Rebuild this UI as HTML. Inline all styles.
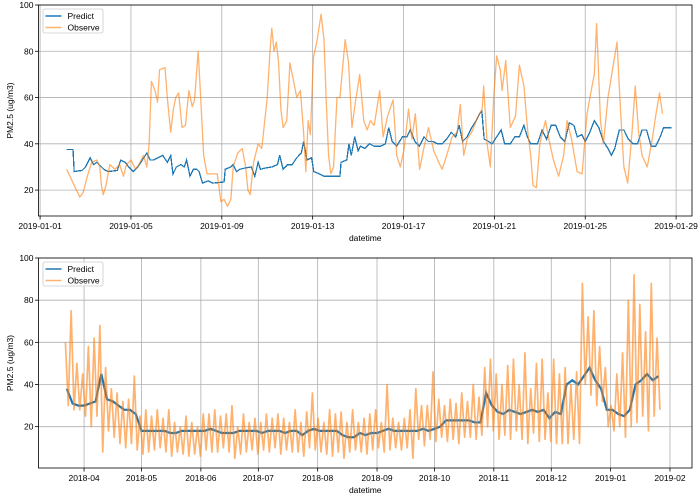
<!DOCTYPE html>
<html><head><meta charset="utf-8"><style>
html,body{margin:0;padding:0;background:#fff;}
svg{display:block;font-family:"Liberation Sans",sans-serif;}
</style></head><body>
<svg id="c" width="700" height="498" viewBox="0 0 700 498"></svg>
<script>
// ---- top chart data (days since 2019-01-01) ----
const topObsDays=[1.17,1.6,1.75,1.9,2.05,2.27,2.5,2.63,2.7,2.78,2.9,3.07,3.3,3.5,3.67,3.8,4.0,4.2,4.35,4.55,4.7,4.8,4.9,5.06,5.17,5.26,5.5,5.6,5.75,5.87,5.97,6.1,6.25,6.4,6.55,6.7,6.8,6.96,7.07,7.2,7.35,7.6,7.8,7.96,8.1,8.25,8.4,8.5,8.7,8.9,9.05,9.15,9.25,9.4,9.6,9.76,10.0,10.12,10.2,10.3,10.4,10.5,10.6,10.7,10.86,11.0,11.1,11.3,11.46,11.6,11.7,11.8,11.9,12.03,12.2,12.37,12.5,12.6,12.7,12.8,12.92,13.07,13.2,13.43,13.58,13.73,13.88,14.07,14.25,14.4,14.54,14.71,14.95,15.1,15.3,15.54,15.7,15.86,16.03,16.22,16.37,16.52,16.71,16.89,17.1,17.33,17.55,17.7,17.9,18.14,18.36,18.5,18.65,18.8,19.0,19.24,19.46,19.53,19.68,19.82,19.97,20.1,20.26,20.34,20.5,20.7,20.93,21.1,21.3,21.47,21.6,21.7,21.85,22.0,22.25,22.4,22.6,22.83,23.05,23.2,23.4,23.64,23.86,24.08,24.3,24.4,24.5,24.67,24.8,25.0,25.2,25.4,25.55,25.7,25.87,26.06,26.2,26.35,26.5,26.73,26.95,27.1,27.27,27.4];
const topObsVals=[29,20,17,19,25,32,33,30,22,18,22,31,29,31,26,31,33,29,31,35,30,40,67,63,58,72,73,60,45,55,60,62,47,48,63,56,59,80,60,35,27,27,27,15,16,13,16,30,36,38,30,20,18,32,40,38,60,80,90,80,84,75,55,47,50,75,70,60,63,45,28,50,44,77,85,96,85,58,35,27,30,60,60,85,75,47,58,70,50,46,50,48,63,43,52,59,35,30,38,55,42,53,29,38,47,37,32,29,35,43,45,57,35,42,45,51,55,65,40,30,60,78,72,63,76,47,52,74,65,45,35,22,21,40,50,42,33,26,35,50,42,28,27,53,65,70,92,50,40,60,72,84,55,30,23,45,65,45,35,30,42,52,62,53];
const topPredDays=[1.17,1.45,1.5,1.85,2.0,2.2,2.35,2.5,2.7,2.8,3.0,3.4,3.55,3.75,3.9,4.1,4.3,4.5,4.7,4.85,5.0,5.2,5.4,5.6,5.75,5.85,6.0,6.2,6.35,6.45,6.6,6.75,6.9,7.0,7.15,7.4,7.6,8.1,8.15,8.4,8.5,8.65,8.8,9.0,9.3,9.45,9.6,9.7,9.9,10.2,10.45,10.55,10.7,10.9,11.1,11.3,11.5,11.6,11.75,11.95,12.05,12.3,12.5,13.2,13.25,13.5,13.6,13.7,13.85,14.0,14.1,14.3,14.5,14.7,15.0,15.2,15.35,15.5,15.7,15.95,16.15,16.3,16.5,16.7,16.9,17.1,17.3,17.5,17.7,17.9,18.1,18.3,18.45,18.6,18.8,19.0,19.2,19.35,19.45,19.55,19.75,19.9,20.1,20.3,20.45,20.7,20.9,21.1,21.3,21.45,21.6,21.9,22.1,22.3,22.5,22.7,22.9,23.1,23.3,23.5,23.65,23.85,24.0,24.2,24.4,24.6,24.8,25.0,25.15,25.3,25.5,25.7,25.9,26.1,26.3,26.5,26.7,26.9,27.1,27.3,27.45,27.6,27.8];
const topPredVals=[37.5,37.5,28,28.5,30,34,31,32,30,29,28,28.5,33,32,30,28,30,33,36,33,33,34,35,32,35,27,30,31,30,33,26,29,29,28,23,24,23,23.5,29,30,31,28,29,29.5,30,26,32,29,29.5,30,31,35,29,31,31,34,36,41,33,34,28,27,26,26,32,33,40,35,43,37,39,38,40,39,39,40,47,41,39,43,43,46,41,39,43,41,41,40,40,42,45,43,48,41,43,47,50,53,54,42,41,40,43,46,40,40,43,43,48,43,40,40,46,42,48,48,43,41,49,48,43,44,41,45,50,47,41,38,35,38,46,46,42,40,40,46,46,39,39,43,47,47,47];
const topTickDays=[0,4,8,12,16,20,24,28];
const topTickLabels=["2019-01-01","2019-01-05","2019-01-09","2019-01-13","2019-01-17","2019-01-21","2019-01-25","2019-01-29"];
const yTicks=[20,40,60,80,100];
// ---- bottom chart data (3-day buckets, days since 2018-04-01) ----
const botDays=[];for(let i=0;i<104;i++)botDays.push(-9+3*i);
const botPred=[38,31,30,30,31,32,45,33,32,30,28,28,26,18,18,18,18,18,17,17,18,18,18,18,18,19,18,17,17,17,18,18,18,18,17,18,18,18,17,18,18,16,18,19,18,18,18,18,16,15,15,17,16,17,17,18,19,18,18,18,18,18,19,18,19,20,23,23,23,23,23,22,22,36,30,27,26,28,27,26,27,28,27,28,24,27,26,40,42,40,44,48,42,38,28,28,26,25,28,40,42,45,42,44];
const botHi=[60,75,50,45,58,62,68,48,38,36,32,33,44,25,28,25,28,24,28,22,20,25,22,20,26,26,28,25,26,30,20,26,22,24,22,26,24,26,24,22,28,22,27,36,24,22,28,26,27,22,28,22,24,26,28,22,40,24,22,24,28,38,30,30,46,33,30,33,31,36,32,40,34,48,52,45,40,49,52,40,55,38,50,52,36,52,45,48,40,46,88,72,75,58,48,30,45,55,80,92,78,65,88,62];
const botLo=[30,28,28,25,20,25,8,18,15,12,10,12,9,7,8,9,10,8,6,8,7,6,7,6,9,8,8,10,8,5,7,8,9,7,9,8,10,7,9,8,8,6,10,9,8,7,6,8,5,8,9,8,7,9,10,8,9,10,9,10,5,14,11,14,13,15,13,14,12,15,15,14,16,20,18,14,16,14,18,14,12,17,13,14,13,12,12,12,14,12,40,35,30,32,20,18,20,15,20,22,25,18,25,28];
const botTickDays=[0,30,61,91,122,153,183,214,244,275,306];
const botTickLabels=["2018-04","2018-05","2018-06","2018-07","2018-08","2018-09","2018-10","2018-11","2018-12","2019-01","2019-02"];

const svg=document.getElementById('c');
const NS='http://www.w3.org/2000/svg';
function mk(tag,attrs,parent){const e=document.createElementNS(NS,tag);for(const k in attrs)e.setAttribute(k,attrs[k]);(parent||svg).appendChild(e);return e;}

function panel(p){
  const g=mk('g',{});
  
  
  const sx=d=>p.L+(d-p.x0)/(p.x1-p.x0)*(p.R-p.L);
  const sy=v=>p.B-(v-p.y0)/(p.y1-p.y0)*(p.B-p.T);
  p.xt.forEach((d,i)=>{
    const x=sx(d);
    const l=mk('line',{x1:x,x2:x,y1:p.T,y2:p.B,stroke:'#b0b0b0','stroke-width':0.8},g);
    
    
    mk('line',{x1:x,x2:x,y1:p.B,y2:p.B+3.5,stroke:'#000','stroke-width':0.8},g);
    const t=mk('text',{x:x,y:p.B+13,'font-size':8.5,'text-anchor':'middle',fill:'#000'},g);
    t.textContent=p.xl[i];
    
    
  });
  yTicks.forEach(v=>{
    const y=sy(v);
    const l=mk('line',{x1:p.L,x2:p.R,y1:y,y2:y,stroke:'#b0b0b0','stroke-width':0.8},g);
    
    
    mk('line',{x1:p.L-3.5,x2:p.L,y1:y,y2:y,stroke:'#000','stroke-width':0.8},g);
    const t=mk('text',{x:p.L-5,y:y+3,'font-size':8.5,'text-anchor':'end',fill:'#000'},g);
    t.textContent=v;
    
    
  });
  const pred=mk('polyline',{points:p.pred.map(q=>sx(q[0])+','+sy(q[1])).join(' '),fill:'none',stroke:'#1f77b4','stroke-width':p.pw,'stroke-linejoin':'miter','shape-rendering':p.crisp?'crispEdges':'auto'},g);
  
  
  const obs=mk('polyline',{points:p.obs.map(q=>sx(q[0])+','+sy(q[1])).join(' '),fill:'none',stroke:'#ff7f0e','stroke-opacity':0.6,'stroke-width':p.ow,'stroke-linejoin':'round'},g);
  
  
  const f=mk('rect',{x:p.L,y:p.T,width:p.R-p.L,height:p.B-p.T,fill:'none',stroke:'#000','stroke-width':0.8},g);
  
  
  const xl=mk('text',{x:(p.L+p.R)/2,y:p.B+25,'font-size':8.5,'text-anchor':'middle'},g);
  xl.textContent='datetime';
  
  
  const cy=(p.T+p.B)/2;
  const yl=mk('text',{x:13,y:cy,'font-size':8.5,'text-anchor':'middle',transform:'rotate(-90 13 '+cy+')'},g);
  yl.textContent='PM2.5 (ug/m3)';
  
  
  const lg=mk('g',{},g);
  
  
  mk('rect',{x:p.L+4.5,y:p.T+4,width:60,height:24,rx:2,fill:'#fff','fill-opacity':0.8,stroke:'#ccc','stroke-width':0.8},lg);
  [['Predict','#1f77b4',1],['Observe','#ff7f0e',0.6]].forEach((e,i)=>{
    const y=p.T+11+i*11.5;
    const eg=mk('g',{},lg);
    
    
    mk('line',{x1:p.L+7,x2:p.L+23,y1:y,y2:y,stroke:e[1],'stroke-opacity':e[2],'stroke-width':1.5},eg);
    const t=mk('text',{x:p.L+29,y:y+3,'font-size':8.5},eg);
    t.textContent=e[0];
  });
}

panel({name:'top-panel',L:38.5,R:692,T:5,B:216,x0:-0.07,x1:28.7,y0:8.8,y1:100,
  xt:topTickDays,xl:topTickLabels,pw:1.3,ow:1.3,crisp:true,
  pred:topPredDays.map((d,i)=>[d,topPredVals[i]]),
  obs:topObsDays.map((d,i)=>[d,topObsVals[i]])});

const botObs=[];botDays.forEach((d,i)=>{botObs.push([d-0.75,botHi[i]]);botObs.push([d+0.75,botLo[i]]);});
panel({name:'bottom-panel',L:38.5,R:692,T:258,B:468,x0:-23.8,x1:317.5,y0:0.4,y1:100,
  xt:botTickDays,xl:botTickLabels,pw:2.2,ow:1.7,crisp:false,
  pred:botDays.map((d,i)=>[d,botPred[i]]),
  obs:botObs});
</script>
</body></html>
